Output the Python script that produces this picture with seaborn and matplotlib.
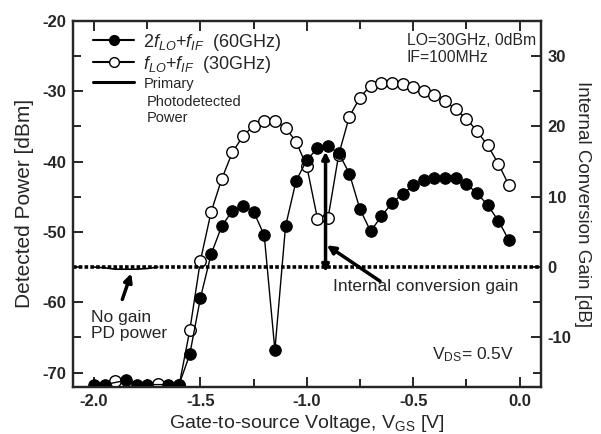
import numpy as np
import pandas as pd
import matplotlib
matplotlib.use("Agg")
import matplotlib.pyplot as plt
from matplotlib.lines import Line2D
from matplotlib.ticker import MultipleLocator
import seaborn as sns

# ---------------- data ----------------
v_60 = [-2.00, -1.95, -1.85, -1.80, -1.75, -1.65, -1.60, -1.55, -1.50, -1.45,
        -1.40, -1.35, -1.30, -1.25, -1.20, -1.15, -1.10, -1.05, -1.00, -0.95,
        -0.90, -0.85, -0.80, -0.75, -0.70, -0.65, -0.60, -0.55, -0.50, -0.45,
        -0.40, -0.35, -0.30, -0.25, -0.20, -0.15, -0.10, -0.05]
p_60 = [-71.7, -71.7, -71.1, -71.7, -71.7, -71.7, -71.7, -67.4, -59.4, -53.2,
        -49.2, -47.0, -46.3, -47.1, -50.5, -66.8, -49.2, -42.7, -39.8, -38.1,
        -37.8, -38.8, -41.7, -46.8, -49.9, -47.8, -45.9, -44.6, -43.4, -42.6,
        -42.3, -42.3, -42.4, -43.2, -44.5, -46.2, -48.4, -51.2]

v_30 = [-1.90, -1.70, -1.60, -1.55, -1.50, -1.45, -1.40, -1.35, -1.30, -1.25,
        -1.20, -1.15, -1.10, -1.05, -1.00, -0.95, -0.90, -0.85, -0.80, -0.75,
        -0.70, -0.65, -0.60, -0.55, -0.50, -0.45, -0.40, -0.35, -0.30, -0.25,
        -0.20, -0.15, -0.10, -0.05]
p_30 = [-71.2, -71.6, -71.8, -64.0, -54.1, -47.2, -42.5, -38.7, -36.4, -34.9,
        -34.2, -34.3, -35.2, -37.2, -40.7, -48.1, -48.0, -39.0, -33.6, -30.9,
        -29.2, -28.8, -28.8, -29.0, -29.4, -30.0, -30.6, -31.4, -32.6, -33.9,
        -35.7, -37.7, -40.3, -43.4]

pd_v = [-2.00, -1.95, -1.90, -1.85, -1.80, -1.75, -1.70]
pd_p = [-55.0, -55.1, -55.3, -55.3, -55.3, -55.2, -55.0]

gain_zero = 0.0

x_ticks = [-2.0, -1.5, -1.0, -0.5, 0.0]
x_tick_labels = ["-2.0", "-1.5", "-1.0", "-0.5", "0.0"]
yl_ticks = [-70, -60, -50, -40, -30, -20]
yr_ticks = [-10, 0, 10, 20, 30]

label_60 = r"$\mathit{2f}_{LO}$+$f_{IF}$  (60GHz)"
label_30 = r"$f_{LO}$+$f_{IF}$  (30GHz)"

# ---------------- style ----------------
sns.set_style("ticks")
plt.rcParams["font.family"] = ["Liberation Sans", "DejaVu Sans"]
plt.rcParams["mathtext.fontset"] = "custom"
plt.rcParams["mathtext.rm"] = "Liberation Sans"
plt.rcParams["mathtext.it"] = "Liberation Sans:italic"
plt.rcParams["mathtext.bf"] = "Liberation Sans:bold"
plt.rcParams["axes.unicode_minus"] = False

fig = plt.figure(figsize=(6.01, 4.34), dpi=100)
ax = fig.add_axes([0.121, 0.109, 0.779, 0.843])
ax2 = ax.twinx()

df60 = pd.DataFrame({"v": v_60, "p": p_60})
df30 = pd.DataFrame({"v": v_30, "p": p_30})
dfpd = pd.DataFrame({"v": pd_v, "p": pd_p})

sns.lineplot(data=df30, x="v", y="p", ax=ax, sort=False, estimator=None,
             color="black", linewidth=1.0, marker="o", markersize=8.3,
             markerfacecolor="white", markeredgecolor="black",
             markeredgewidth=1.0, zorder=3)
sns.lineplot(data=df60, x="v", y="p", ax=ax, sort=False, estimator=None,
             color="black", linewidth=1.0, marker="o", markersize=8.3,
             markerfacecolor="black", markeredgecolor="black", zorder=4)
sns.lineplot(data=dfpd, x="v", y="p", ax=ax, sort=False, estimator=None,
             color="black", linewidth=1.2, zorder=2)

# dotted zero-gain line on the right axis
ax2.axhline(gain_zero, color="black", linewidth=2.6, linestyle=(0, (1.0, 0.6)),
            zorder=1)

ax.set_xlim(-2.1, 0.1)
ax.set_ylim(-72, -20)
ax2.set_ylim(-17, 35)

ax.set_xticks(x_ticks)
ax.set_xticklabels(x_tick_labels, fontweight="bold", fontsize=12)
ax.xaxis.set_minor_locator(MultipleLocator(0.25))
ax.set_yticks(yl_ticks)
ax.set_yticklabels([str(t) for t in yl_ticks], fontweight="bold", fontsize=12)
ax.yaxis.set_minor_locator(MultipleLocator(5))
ax2.set_yticks(yr_ticks)
ax2.set_yticklabels([str(t) for t in yr_ticks], fontweight="bold", fontsize=12)
ax2.yaxis.set_minor_locator(MultipleLocator(5))

for a in (ax, ax2):
    for s in a.spines.values():
        s.set_linewidth(1.6)
        s.set_visible(True)
ax.tick_params(axis="both", which="both", direction="in", width=1.4,
               top=True, right=False, pad=5)
ax.tick_params(axis="both", which="major", length=7)
ax.tick_params(axis="both", which="minor", length=6)
ax2.tick_params(axis="y", which="both", direction="in", width=1.4, pad=5)
ax2.tick_params(axis="y", which="major", length=7)
ax2.tick_params(axis="y", which="minor", length=6)

ax.set_xlabel(r"Gate-to-source Voltage, V$_{\rm GS}$ [V]", fontsize=14, labelpad=3)
ax.set_ylabel("Detected Power [dBm]", fontsize=15, labelpad=6)
ax2.set_ylabel("Internal Conversion Gain [dB]", fontsize=13.5, rotation=270,
               labelpad=14)

# legend
h60 = Line2D([], [], color="black", lw=1.5, marker="o", markersize=7,
             markerfacecolor="black", markeredgecolor="black")
h30 = Line2D([], [], color="black", lw=1.5, marker="o", markersize=7,
             markerfacecolor="white", markeredgecolor="black")
hpd = Line2D([], [], color="black", lw=2.2)
leg = ax.legend([h60, h30, hpd], [label_60, label_30, "Primary"],
                loc="upper left", bbox_to_anchor=(0.02, 1.0), frameon=False,
                fontsize=13, handlelength=2.3, handletextpad=0.5,
                labelspacing=0.05, borderaxespad=0.2)
leg.get_texts()[2].set_fontsize(10.5)
ax.text(-1.75, -30.5, "Photodetected\nPower", fontsize=10.5, ha="left",
        va="top", linespacing=1.2)

# annotations
ax.text(-2.012, -63.3, "No gain\nPD power", fontsize=12.5, ha="left",
        va="center", linespacing=1.1)
ax.annotate("", xy=(-1.825, -55.9), xytext=(-1.867, -59.6),
            arrowprops=dict(arrowstyle="-|>", lw=2.5, color="black",
                            mutation_scale=12, shrinkA=0, shrinkB=0))
ax.text(-0.44, -57.8, "Internal conversion gain", fontsize=12.5, ha="center",
        va="center")
ax.annotate("", xy=(-0.906, -51.9), xytext=(-0.656, -57.0),
            arrowprops=dict(arrowstyle="-|>", lw=2.5, color="black",
                            mutation_scale=12, shrinkA=0, shrinkB=0))
ax.annotate("", xy=(-0.912, -38.6), xytext=(-0.912, -55.7),
            arrowprops=dict(arrowstyle="<|-|>", lw=2.5, color="black",
                            mutation_scale=10, shrinkA=0, shrinkB=0),
            zorder=5)
ax.text(-0.53, -24.0, "LO=30GHz, 0dBm\nIF=100MHz", fontsize=11.3, ha="left",
        va="center", linespacing=1.15)
ax.text(-0.412, -67.4, r"V$_{\rm DS}$= 0.5V", fontsize=12.5, ha="left",
        va="center")

fig.savefig("out.png", dpi=100)
